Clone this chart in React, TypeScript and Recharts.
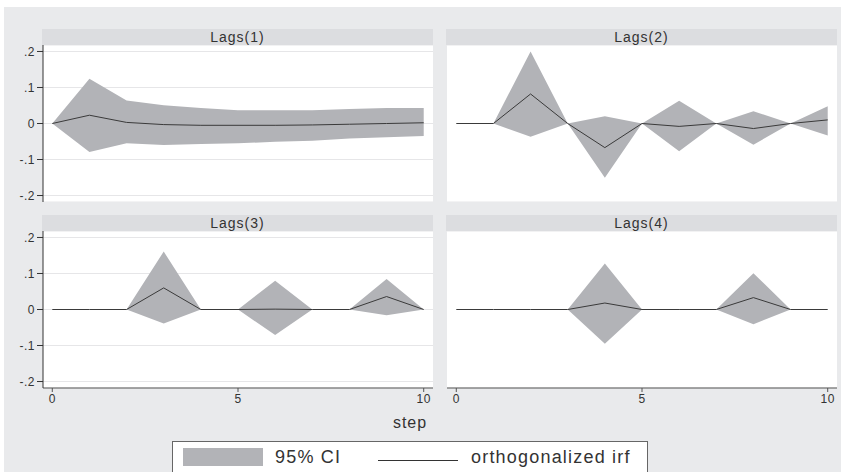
import { ComposedChart, Area, Line, XAxis, YAxis, CartesianGrid } from "recharts";

const steps = [0, 1, 2, 3, 4, 5, 6, 7, 8, 9, 10];
const yTicks = [-0.2, -0.1, 0, 0.1, 0.2];
const xTicks = [0, 5, 10];

const lag1Irf = [0, 0.023, 0.003, -0.003, -0.005, -0.005, -0.005, -0.004, -0.002, 0, 0.002];
const lag1Lo = [0, -0.079, -0.055, -0.06, -0.057, -0.055, -0.051, -0.048, -0.042, -0.038, -0.035];
const lag1Hi = [0, 0.124, 0.064, 0.051, 0.043, 0.037, 0.037, 0.037, 0.04, 0.043, 0.043];

const lag2Irf = [0, 0, 0.082, 0, -0.067, 0, -0.008, 0, -0.014, 0, 0.01];
const lag2Lo = [0, 0, -0.037, 0, -0.151, 0, -0.077, 0, -0.059, 0, -0.033];
const lag2Hi = [0, 0, 0.2, 0, 0.02, 0, 0.063, 0, 0.034, 0, 0.048];

const lag3Irf = [0, 0, 0, 0.06, 0, 0, 0.001, 0, 0, 0.036, 0];
const lag3Lo = [0, 0, 0, -0.039, 0, 0, -0.071, 0, 0, -0.016, 0];
const lag3Hi = [0, 0, 0, 0.161, 0, 0, 0.08, 0, 0, 0.085, 0];

const lag4Irf = [0, 0, 0, 0, 0.018, 0, 0, 0, 0.033, 0, 0];
const lag4Lo = [0, 0, 0, 0, -0.095, 0, 0, 0, -0.041, 0, 0];
const lag4Hi = [0, 0, 0, 0, 0.128, 0, 0, 0, 0.101, 0, 0];

const CI_FILL = "#b2b3b7";
const LINE = "#3a3a3a";
const FONT = "'Liberation Sans', Arial, sans-serif";

function rows(irf: number[], lo: number[], hi: number[]) {
  return steps.map((s, i) => ({ step: s, ci: [lo[i], hi[i]], irf: irf[i] }));
}

// stata style labels: .2, -.1, 0
function fmtY(v: number) {
  if (v === 0) return "0";
  const s = Math.abs(v).toFixed(1).replace(/^0/, "");
  return v < 0 ? "-" + s : s;
}

type PanelProps = {
  title: string;
  data: { step: number; ci: number[]; irf: number }[];
  left: number;
  top: number;
  yLabels: boolean;
  xLabels: boolean;
};

function Panel({ title, data, left, top, yLabels, xLabels }: PanelProps) {
  const axisW = yLabels ? 43 : 0;
  const plotW = 390;
  const plotH = 157;
  const xAxisH = xLabels ? 26 : 0;
  const tickStyle = { fill: "#333", fontSize: 12, fontFamily: FONT, letterSpacing: 0.5 };
  return (
    <>
      <div
        style={{
          position: "absolute",
          left: left + axisW - 1,
          top: top - 16,
          width: plotW + 1,
          height: 16,
          background: "#dcdde0",
          color: "#333",
          fontFamily: FONT,
          fontSize: 14,
          letterSpacing: 1,
          lineHeight: "16px",
          textAlign: "center",
        }}
      >
        {title}
      </div>
      <div style={{ position: "absolute", left, top }}>
        <ComposedChart
          width={axisW + plotW}
          height={plotH + xAxisH}
          data={data}
          margin={{ top: 0, right: 0, bottom: 0, left: 0 }}
        >
          <CartesianGrid vertical={false} stroke="#e6e6e8" fill="#ffffff" />
          <XAxis
            dataKey="step"
            type="number"
            domain={[-0.25, 10.25]}
            ticks={xTicks}
            interval={0}
            hide={!xLabels}
            height={xAxisH}
            tick={tickStyle}
            tickSize={4}
            axisLine={{ stroke: "#555" }}
            tickLine={{ stroke: "#555" }}
          />
          <YAxis
            type="number"
            domain={[-0.218, 0.218]}
            ticks={yTicks}
            interval={0}
            allowDataOverflow
            width={axisW}
            tickFormatter={fmtY}
            tick={yLabels ? tickStyle : false}
            tickSize={6}
            axisLine={yLabels ? { stroke: "#333" } : false}
            tickLine={yLabels ? { stroke: "#333" } : false}
          />
          <Area
            type="linear"
            dataKey="ci"
            fill={CI_FILL}
            fillOpacity={1}
            stroke="none"
            isAnimationActive={false}
          />
          <Line
            type="linear"
            dataKey="irf"
            stroke={LINE}
            strokeWidth={1}
            dot={false}
            isAnimationActive={false}
          />
        </ComposedChart>
      </div>
    </>
  );
}

export default function App() {
  return (
    <div
      style={{
        position: "absolute",
        left: 0,
        top: 0,
        width: 844,
        height: 472,
        background: "#fff",
        overflow: "hidden",
        fontFamily: FONT,
      }}
    >
      <div
        style={{
          position: "absolute",
          left: 4,
          top: 7,
          width: 837,
          height: 465,
          background: "#e9eaec",
        }}
      />
      <Panel title="Lags(1)" data={rows(lag1Irf, lag1Lo, lag1Hi)} left={0} top={45} yLabels xLabels={false} />
      <Panel title="Lags(2)" data={rows(lag2Irf, lag2Lo, lag2Hi)} left={447} top={45} yLabels={false} xLabels={false} />
      <Panel title="Lags(3)" data={rows(lag3Irf, lag3Lo, lag3Hi)} left={0} top={231} yLabels xLabels />
      <Panel title="Lags(4)" data={rows(lag4Irf, lag4Lo, lag4Hi)} left={447} top={231} yLabels={false} xLabels />

      {/* x title */}
      <div
        style={{
          position: "absolute",
          left: 360,
          top: 414,
          width: 100,
          textAlign: "center",
          fontSize: 16,
          letterSpacing: 1,
          color: "#333",
        }}
      >
        step
      </div>

      {/* legend */}
      <div
        style={{
          position: "absolute",
          left: 172,
          top: 441,
          width: 474,
          height: 40,
          background: "#fff",
          border: "1px solid #666",
        }}
      >
        <div style={{ position: "absolute", left: 10, top: 6, width: 80, height: 18, background: CI_FILL }} />
        <div
          style={{ position: "absolute", left: 102, top: 4, fontSize: 18, letterSpacing: 1.2, color: "#333", lineHeight: "22px" }}
        >
          95% CI
        </div>
        <div style={{ position: "absolute", left: 205, top: 18, width: 80, height: 1, background: "#333" }} />
        <div
          style={{ position: "absolute", left: 298, top: 4, fontSize: 18, letterSpacing: 1.2, color: "#333", lineHeight: "22px" }}
        >
          orthogonalized irf
        </div>
      </div>
    </div>
  );
}
